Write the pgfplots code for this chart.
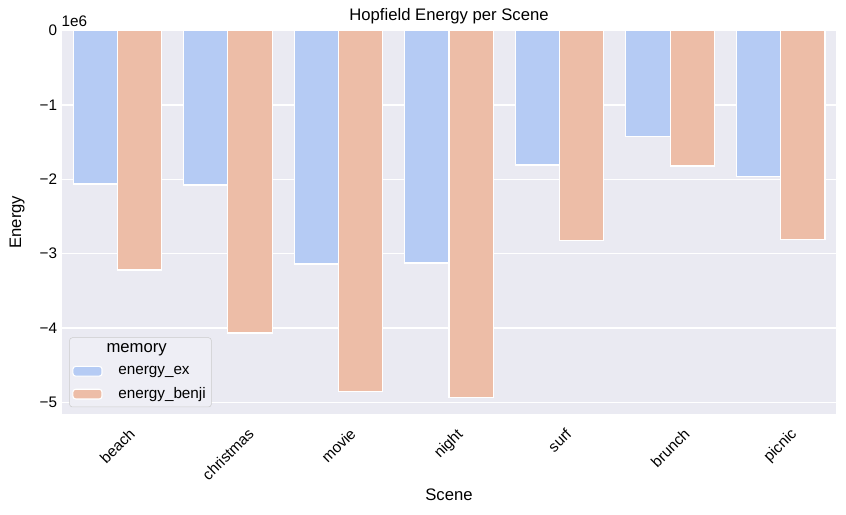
\documentclass[border=0pt]{standalone}
\usepackage{fontspec}
\setmainfont{Liberation Sans}
\usepackage{pgfplots}
\pgfplotsset{compat=1.18}
\usepackage{graphicx}

\definecolor{bgc}{RGB}{234,234,242}
\definecolor{exc}{RGB}{181,203,244}
\definecolor{benjic}{RGB}{237,189,167}

% energy per scene (x = scene index)
\pgfplotstableread{
x   ex        benji
0  -2064000  -3220000
1  -2078000  -4068000
2  -3140000  -4857000
3  -3127000  -4930000
4  -1809000  -2830000
5  -1430000  -1822000
6  -1966000  -2808000
}\energy

\begin{document}
\begin{tikzpicture}
\useasboundingbox (-44.64pt,-72.94pt) rectangle (564.48pt,297.86pt);
\begin{axis}[
    scale only axis,
    width=557.28pt, height=275.9pt,
    clip mode=individual,
    axis background/.style={fill=bgc},
    axis line style={draw=none},
    tick style={draw=none},
    enlargelimits=false,
    xmin=-0.5, xmax=6.5,
    ymin=-5153000, ymax=0,
    xtick={0,...,6},
    xticklabels={\rotatebox{45}{beach},\rotatebox{45}{christmas},\rotatebox{45}{movie},\rotatebox{45}{night},\rotatebox{45}{surf},\rotatebox{45}{brunch},\rotatebox{45}{picnic}},
    xticklabel style={anchor=north, yshift=-2pt, font=\fontsize{11}{13}\selectfont},
    ytick={-5000000,-4000000,-3000000,-2000000,-1000000,0},
    yticklabels={−5,−4,−3,−2,−1,0},
    yticklabel style={anchor=east, font=\fontsize{11}{13}\selectfont},
    scaled y ticks=false,
    ymajorgrids,
    grid style={white, line width=1pt},
    title={Hopfield Energy per Scene},
    title style={at={(axis description cs:0.5,1.040)}, anchor=center, yshift=-6.5pt, font=\fontsize{12}{14}\selectfont},
    xlabel={Scene},
    xlabel style={at={(axis description cs:0.5,-0.212)}, anchor=center, font=\fontsize{12}{14}\selectfont},
    ylabel={Energy},
    ylabel style={at={(axis description cs:-0.0581,0.5)}, anchor=center, font=\fontsize{12}{14}\selectfont},
    ybar, bar width=0.4,
    legend cell align=left,
    legend image code/.code={\fill[#1] (0pt,-3.5pt) rectangle (21pt,3.5pt);},
    legend style={at={(axis description cs:0.0094,0.199)}, anchor=north west,
        fill=bgc!80!white, draw=black!20, rounded corners=2pt,
        font=\fontsize{11}{13}\selectfont, row sep=4pt, column sep=9.3pt,
        inner xsep=2pt, inner ysep=2.5pt},
]
\addlegendimage{empty legend}
\addlegendentry{\hspace*{-29.8pt}\makebox[86pt][c]{\fontsize{12}{14}\selectfont memory}}
\addplot[fill=exc, draw=white, line width=0.8pt, bar shift=-0.2] table[x=x, y=ex] {\energy};
\addlegendentry{energy\_ex}
\addplot[fill=benjic, draw=white, line width=0.8pt, bar shift=0.2] table[x=x, y=benji] {\energy};
\addlegendentry{energy\_benji}
\node[anchor=center, font=\fontsize{11}{13}\selectfont] at (axis description cs:0.0159,1.0248) {1e6};
\end{axis}
\end{tikzpicture}
\end{document}
